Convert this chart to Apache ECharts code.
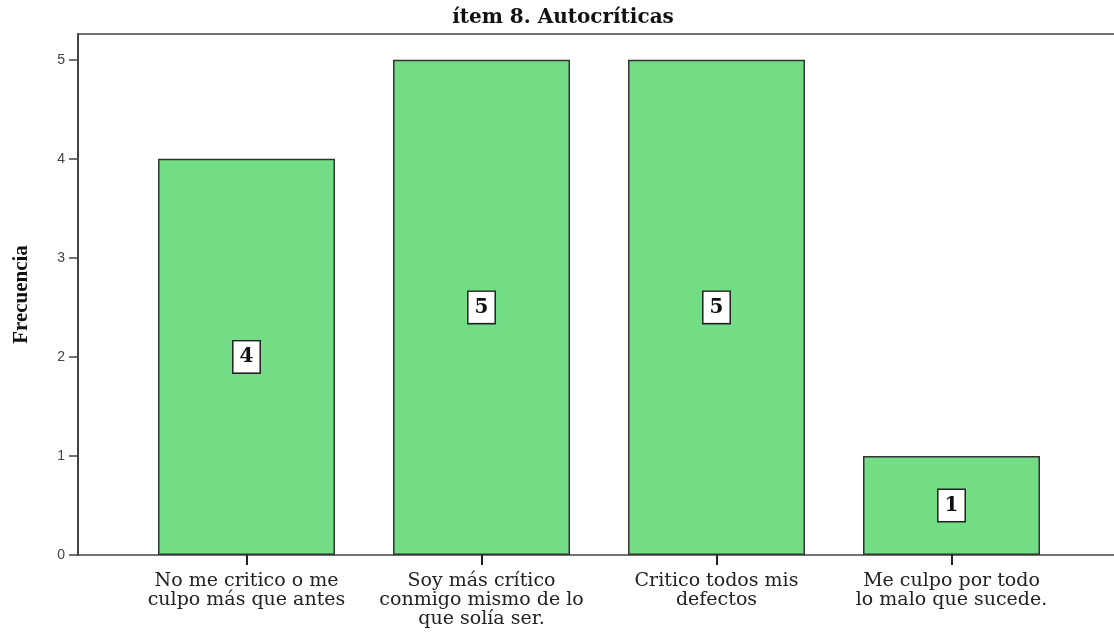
<!DOCTYPE html>
<html><head><meta charset="utf-8">
<script src="https://cdn.jsdelivr.net/npm/echarts@6/dist/echarts.min.js"></script>
<style>html,body{margin:0;padding:0;background:#fff}#c{width:1114px;height:641px}</style>
</head><body><div id="c"></div>
<script>
const titleText = 'ítem 8. Autocríticas';
const yAxisName = 'Frecuencia';
const categories = [
  'No me critico o me\nculpo más que antes',
  'Soy más crítico\nconmigo mismo de lo\nque solía ser.',
  'Critico todos mis\ndefectos',
  'Me culpo por todo\nlo malo que sucede.'
];
const frequencies = [4, 5, 5, 1];
const yTicks = [0, 1, 2, 3, 4, 5];
const yMax = 5.26;

const chart = echarts.init(document.getElementById('c'), null, {renderer: 'canvas'});
chart.setOption({
  animation: false,
  title: {text: titleText, left: 558, top: 3, textAlign: 'center',
    textStyle: {fontFamily: 'DejaVu Serif', fontWeight: 'bold', fontSize: 20, color: '#111'}},
  grid: [
    {left: 78, top: 34, bottom: 86, width: 1060, outerBoundsMode: 'none', containLabel: false,
      show: true, borderColor: '#444', borderWidth: 1.5, backgroundColor: 'transparent'},
    {left: 129, width: 940, top: 34, bottom: 86, outerBoundsMode: 'none', containLabel: false}
  ],
  xAxis: [
    {type: 'value', gridIndex: 0, min: 0, max: 1, show: false},
    {type: 'category', gridIndex: 1, data: categories,
      axisLine: {show: false},
      axisTick: {show: true, alignWithLabel: true, length: 10, lineStyle: {color: '#222', width: 2}},
      axisLabel: {interval: 0, margin: 17, fontFamily: 'DejaVu Serif', fontSize: 19, lineHeight: 19, color: '#222'}}
  ],
  yAxis: [
    {type: 'value', gridIndex: 0, min: 0, max: yMax,
      axisLine: {show: true, lineStyle: {color: '#444', width: 2}},
      axisTick: {show: true, customValues: yTicks, length: 9, lineStyle: {color: '#444', width: 1.5}},
      axisLabel: {customValues: yTicks, margin: 13, fontFamily: 'Liberation Sans', fontSize: 14, color: '#444'},
      splitLine: {show: false},
      name: yAxisName, nameLocation: 'middle', nameGap: 46, nameRotate: 90,
      nameTextStyle: {fontFamily: 'Liberation Serif', fontWeight: 'bold', fontSize: 21, color: '#111'}},
    {type: 'value', gridIndex: 1, min: 0, max: yMax, show: false}
  ],
  series: [{
    type: 'bar', xAxisIndex: 1, yAxisIndex: 1, data: frequencies, barWidth: 177,
    itemStyle: {color: '#73dd85', borderColor: '#333', borderWidth: 1.5},
    label: {show: true, position: 'inside', fontFamily: 'DejaVu Serif', fontWeight: 'bold', fontSize: 20,
      color: '#111', backgroundColor: '#fff', borderColor: '#222', borderWidth: 1.5, padding: [6, 6, 5, 6]}
  }]
});
</script></body></html>
